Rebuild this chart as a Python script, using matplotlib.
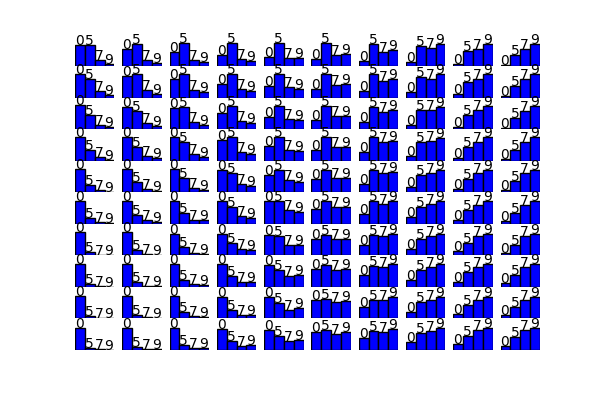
import matplotlib
matplotlib.use("Agg")
import matplotlib.pyplot as plt
import numpy as np

labels = ['0', '5', '7', '9']

# bar heights (fraction of each little axes), one 10x10 grid per label
h0 = [
    [0.80, 0.65, 0.54, 0.42, 0.35, 0.27, 0.20, 0.16, 0.08, 0.04],
    [0.89, 0.82, 0.70, 0.54, 0.44, 0.34, 0.25, 0.22, 0.13, 0.06],
    [0.91, 0.85, 0.81, 0.62, 0.47, 0.34, 0.28, 0.18, 0.09, 0.06],
    [0.89, 0.89, 0.89, 0.80, 0.58, 0.42, 0.32, 0.19, 0.10, 0.08],
    [0.90, 0.90, 0.90, 0.84, 0.68, 0.49, 0.33, 0.20, 0.11, 0.08],
    [0.89, 0.89, 0.89, 0.89, 0.86, 0.58, 0.39, 0.25, 0.16, 0.10],
    [0.89, 0.89, 0.82, 0.82, 0.78, 0.61, 0.41, 0.23, 0.15, 0.10],
    [0.89, 0.89, 0.89, 0.87, 0.85, 0.70, 0.47, 0.28, 0.19, 0.15],
    [0.87, 0.87, 0.87, 0.80, 0.80, 0.70, 0.44, 0.25, 0.16, 0.14],
    [0.82, 0.82, 0.82, 0.80, 0.76, 0.70, 0.47, 0.29, 0.23, 0.16],
]
h5 = [
    [0.80, 0.84, 0.89, 0.89, 0.89, 0.89, 0.84, 0.76, 0.57, 0.42],
    [0.73, 0.89, 0.89, 0.89, 0.89, 0.89, 0.89, 0.78, 0.59, 0.44],
    [0.56, 0.70, 0.85, 0.89, 0.89, 0.89, 0.85, 0.72, 0.56, 0.44],
    [0.42, 0.54, 0.73, 0.89, 0.89, 0.89, 0.89, 0.73, 0.54, 0.42],
    [0.27, 0.39, 0.54, 0.73, 0.84, 0.84, 0.84, 0.65, 0.49, 0.42],
    [0.23, 0.32, 0.42, 0.63, 0.86, 0.86, 0.86, 0.65, 0.54, 0.42],
    [0.13, 0.19, 0.32, 0.48, 0.73, 0.79, 0.76, 0.61, 0.48, 0.41],
    [0.13, 0.19, 0.28, 0.43, 0.66, 0.82, 0.78, 0.66, 0.57, 0.47],
    [0.08, 0.13, 0.23, 0.33, 0.57, 0.76, 0.70, 0.61, 0.52, 0.44],
    [0.09, 0.13, 0.19, 0.34, 0.53, 0.76, 0.72, 0.63, 0.54, 0.51],
]
h7 = [
    [0.23, 0.23, 0.23, 0.27, 0.32, 0.42, 0.54, 0.70, 0.65, 0.65],
    [0.25, 0.29, 0.29, 0.34, 0.41, 0.47, 0.63, 0.72, 0.73, 0.70],
    [0.18, 0.25, 0.28, 0.32, 0.41, 0.51, 0.66, 0.72, 0.72, 0.70],
    [0.13, 0.20, 0.27, 0.35, 0.42, 0.54, 0.71, 0.76, 0.73, 0.73],
    [0.08, 0.11, 0.18, 0.30, 0.46, 0.56, 0.73, 0.73, 0.73, 0.73],
    [0.09, 0.13, 0.16, 0.29, 0.51, 0.63, 0.77, 0.77, 0.73, 0.73],
    [0.03, 0.04, 0.10, 0.23, 0.41, 0.61, 0.73, 0.73, 0.73, 0.73],
    [0.03, 0.05, 0.11, 0.19, 0.41, 0.66, 0.75, 0.75, 0.75, 0.75],
    [0.01, 0.04, 0.08, 0.14, 0.33, 0.61, 0.70, 0.70, 0.70, 0.70],
    [0.03, 0.04, 0.09, 0.16, 0.34, 0.61, 0.70, 0.72, 0.76, 0.76],
]
h9 = [
    [0.08, 0.13, 0.16, 0.20, 0.32, 0.46, 0.63, 0.84, 0.84, 0.84],
    [0.10, 0.16, 0.22, 0.25, 0.35, 0.51, 0.70, 0.89, 0.89, 0.89],
    [0.08, 0.13, 0.18, 0.24, 0.34, 0.51, 0.72, 0.85, 0.89, 0.89],
    [0.05, 0.10, 0.16, 0.27, 0.38, 0.54, 0.76, 0.86, 0.89, 0.89],
    [0.03, 0.05, 0.10, 0.23, 0.38, 0.56, 0.78, 0.84, 0.86, 0.86],
    [0.03, 0.06, 0.13, 0.23, 0.44, 0.66, 0.86, 0.89, 0.89, 0.89],
    [0.01, 0.03, 0.06, 0.19, 0.41, 0.63, 0.82, 0.82, 0.82, 0.82],
    [0.01, 0.03, 0.09, 0.19, 0.44, 0.70, 0.87, 0.87, 0.87, 0.87],
    [0.00, 0.01, 0.05, 0.14, 0.38, 0.67, 0.80, 0.80, 0.80, 0.80],
    [0.01, 0.03, 0.06, 0.19, 0.38, 0.67, 0.80, 0.82, 0.82, 0.82],
]

grids = np.array([h0, h5, h7, h9])
x = np.arange(len(labels))

fig, axes = plt.subplots(10, 10, figsize=(6, 4), dpi=100)
plt.subplots_adjust(left=0.125, right=0.9, bottom=0.125, top=0.9,
                    wspace=0.2, hspace=0.2)

for r in range(10):
    for c in range(10):
        ax = axes[r, c]
        heights = grids[:, r, c]
        ax.bar(x, heights, width=1, align='edge', color='blue',
               edgecolor='black', linewidth=1)
        # label sits right on top of its bar
        for xi, hi, lab in zip(x, heights, labels):
            ax.text(xi, hi, lab, ha='left', va='baseline', fontsize=10,
                    clip_on=False)
        ax.set_xlim(0, 4)
        ax.set_ylim(0, 1)
        ax.axis('off')

plt.savefig('out.png')
